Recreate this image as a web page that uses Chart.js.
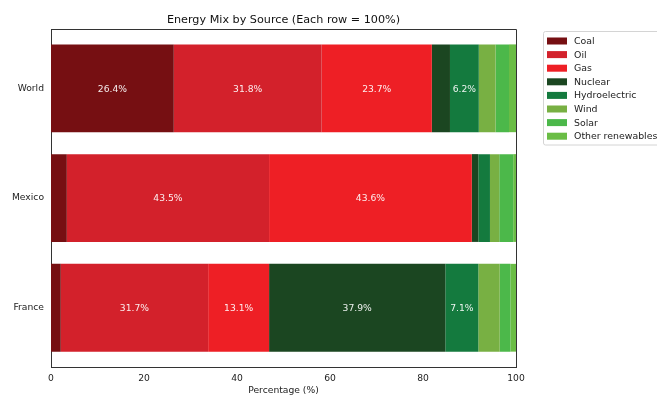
<!DOCTYPE html>
<html>
<head>
<meta charset="utf-8">
<script src="https://cdn.jsdelivr.net/npm/chart.js@4"></script>
<style>
html,body{margin:0;padding:0;background:#fff;}
#wrap{width:657px;height:396px;position:relative;}
</style>
</head>
<body>
<div id="wrap"><canvas id="c" width="657" height="396"></canvas></div>
<script>
const countries = ["World", "Mexico", "France"];
const sources = ["Coal", "Oil", "Gas", "Nuclear", "Hydroelectric", "Wind", "Solar", "Other renewables"];
const coal = [26.4, 3.4, 2.1];
const oil = [31.8, 43.5, 31.7];
const gas = [23.7, 43.6, 13.1];
const nuclear = [3.9, 1.4, 37.9];
const hydro = [6.2, 2.5, 7.1];
const wind = [3.6, 2.0, 4.6];
const solar = [2.9, 3.0, 2.3];
const otherRen = [1.5, 0.6, 1.2];
const xTicks = [0, 20, 40, 60, 80, 100];

const seriesValues = [coal, oil, gas, nuclear, hydro, wind, solar, otherRen];
const colors = ["#760f12", "#d3212b", "#ee1f25", "#1b4621", "#147a3e", "#78b043", "#4cb84a", "#6abd45"];
const FONT = "'DejaVu Sans', sans-serif";
const SMALL = 9.2;

const datasets = sources.map((s, i) => ({
  label: s,
  data: seriesValues[i].map((v, j) => ({x: v, y: j})),
  backgroundColor: colors[i],
  borderWidth: 0,
  barPercentage: 1.0,
  categoryPercentage: 0.8
}));

const labelPlugin = {
  id: 'segLabels',
  afterDatasetsDraw(chart) {
    const ctx = chart.ctx;
    ctx.save();
    ctx.font = SMALL + "px " + FONT;
    ctx.fillStyle = "rgba(255,255,255,0.92)";
    ctx.textAlign = "center";
    ctx.textBaseline = "middle";
    chart.data.datasets.forEach((ds, i) => {
      const meta = chart.getDatasetMeta(i);
      meta.data.forEach((el, j) => {
        const v = ds.data[j].x;
        if (v > 5) {
          const cx = (el.x + el.base) / 2;
          ctx.fillText(v.toFixed(1) + "%", cx, el.y + 1);
        }
      });
    });
    ctx.restore();
  }
};

const spinePlugin = {
  id: 'spines',
  afterDraw(chart) {
    const a = chart.chartArea;
    const ctx = chart.ctx;
    ctx.save();
    ctx.strokeStyle = "#333";
    ctx.lineWidth = 1;
    ctx.beginPath();
    ctx.moveTo(Math.round(a.left) + 0.5, Math.round(a.top) + 0.5);
    ctx.lineTo(Math.round(a.right) + 0.5, Math.round(a.top) + 0.5);
    ctx.lineTo(Math.round(a.right) + 0.5, Math.round(a.bottom) + 0.5);
    ctx.stroke();
    ctx.restore();
  }
};

const legendPlugin = {
  id: 'customLegend',
  afterDraw(chart) {
    const ctx = chart.ctx;
    ctx.save();
    const x0 = 543.5, y0 = 31.5, w = 130, h = 113.5;
    ctx.fillStyle = "rgba(255,255,255,0.8)";
    ctx.strokeStyle = "#d4d4d4";
    ctx.lineWidth = 1;
    ctx.beginPath();
    if (ctx.roundRect) ctx.roundRect(x0, y0, w, h, 2); else ctx.rect(x0, y0, w, h);
    ctx.fill();
    ctx.stroke();
    ctx.font = "9.4px " + FONT;
    ctx.textBaseline = "middle";
    ctx.textAlign = "left";
    chart.data.datasets.forEach((ds, i) => {
      const cy = 41 + i * 13.6;
      ctx.fillStyle = ds.backgroundColor;
      ctx.fillRect(547, cy - 3.5, 20, 7);
      ctx.fillStyle = "#222";
      ctx.fillText(ds.label, 574, cy + 0.5);
    });
    ctx.restore();
  }
};

new Chart(document.getElementById('c'), {
  type: 'bar',
  data: { datasets },
  plugins: [labelPlugin, spinePlugin, legendPlugin],
  options: {
    indexAxis: 'y',
    responsive: false,
    animation: false,
    devicePixelRatio: 1,
    layout: { padding: { left: 0, right: 141, top: 0, bottom: 0 } },
    plugins: {
      legend: { display: false },
      tooltip: { enabled: false },
      title: {
        display: true,
        text: "Energy Mix by Source (Each row = 100%)",
        fullSize: false,
        color: "#111",
        font: { family: FONT, size: 11.2, weight: 'normal' },
        padding: { top: 13, bottom: 2.6 }
      }
    },
    scales: {
      x: {
        type: 'linear',
        stacked: true,
        min: 0,
        max: 100,
        offset: false,
        afterBuildTicks: (axis) => { axis.ticks = xTicks.map(v => ({value: v})); },
        afterFit: (scale) => { scale.height = 29; },
        grid: { display: false, offset: false, drawOnChartArea: false, drawTicks: true, tickLength: 4, tickColor: "#333" },
        border: { display: true, color: "#333", width: 1 },
        ticks: { color: "#222", font: { family: FONT, size: SMALL }, padding: 2.5, maxRotation: 0 },
        title: { display: true, text: "Percentage (%)", color: "#222", font: { family: FONT, size: SMALL }, padding: { top: 0, bottom: 0 } }
      },
      y: {
        type: 'linear',
        stacked: true,
        reverse: true,
        offset: false,
        min: -0.54,
        max: 2.54,
        afterBuildTicks: (axis) => { axis.ticks = countries.map((c, i) => ({value: i})); },
        afterFit: (scale) => { scale.width = 51; },
        grid: { display: false, offset: false, drawOnChartArea: false, drawTicks: true, tickLength: 4, tickColor: "#333" },
        border: { display: true, color: "#333", width: 1 },
        ticks: {
          color: "#222",
          font: { family: FONT, size: SMALL },
          padding: 3,
          callback: (v) => countries[Math.round(v)] ?? ""
        }
      }
    }
  }
});
</script>
</body>
</html>
